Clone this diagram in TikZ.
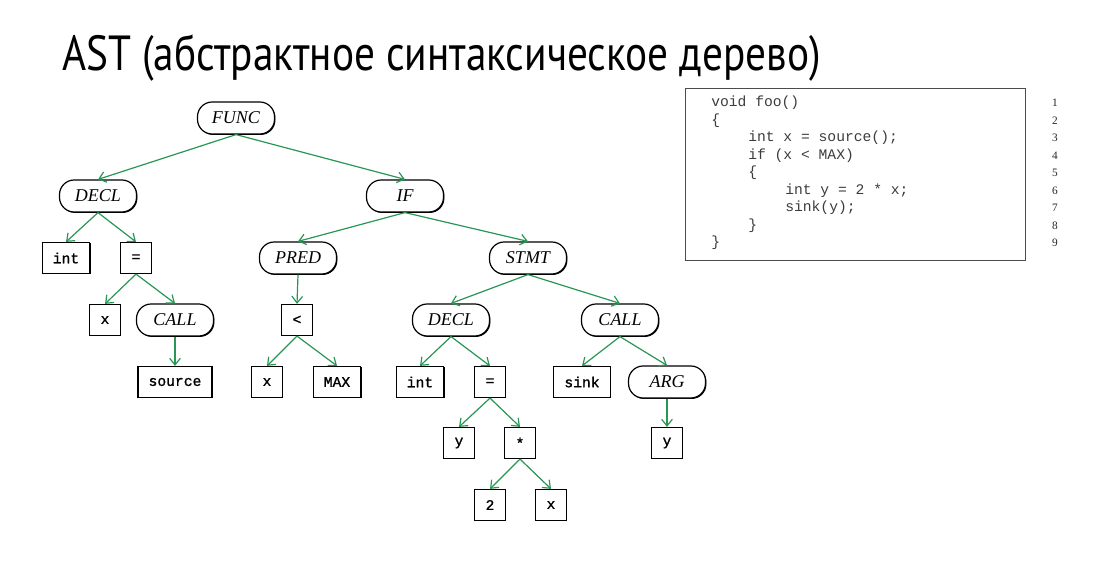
\documentclass[tikz,border=0pt]{standalone}
\usepackage{fontspec}
\setmainfont{Liberation Serif}
\newfontfamily\monofont{Liberation Mono}
\newfontfamily\boxmono[FakeBold=1.2]{Liberation Mono}
\newfontfamily\titlefont{PT Sans}
\usetikzlibrary{arrows.meta,shadows}
\definecolor{edgegreen}{RGB}{40,150,85}
\definecolor{codegray}{RGB}{60,60,60}
\tikzset{
  shd/.style={drop shadow={shadow xshift=0.7pt,shadow yshift=-0.7pt,fill=black,opacity=1}},
  rnd/.style={draw=black,line width=0.9pt,fill=white,shd,rounded corners=11pt,
    minimum width=57.75pt,minimum height=24pt,inner sep=0pt,
    font=\fontsize{13.5}{15}\selectfont\itshape},
  sq/.style={draw=black,line width=0.9pt,fill=white,shd,minimum width=23.25pt,minimum height=23.25pt,
    inner xsep=8pt,inner ysep=0pt,font=\boxmono\fontsize{11}{13}\selectfont},
  edge/.style={draw=edgegreen,line width=0.9pt,-{Straight Barb[length=5pt,width=8pt]}},
  code/.style={anchor=west,inner sep=0pt,text=codegray,font=\monofont\fontsize{11}{13}\selectfont},
  lnum/.style={inner sep=0pt,text=black!85,font=\fontsize{8.5}{9}\selectfont},
}
\begin{document}
\begin{tikzpicture}[x=0.75pt,y=-0.75pt]
\useasboundingbox (0,0) rectangle (1107,577);
% title
\node[anchor=base west,inner sep=0pt] (title) at (62,71)
  {\titlefont\fontsize{37}{40}\selectfont\scalebox{0.837}[1]{AST (абстрактное синтаксическое дерево)}};
% tree nodes
\node[rnd] (func) at (236,118) {FUNC};
\node[rnd] (decl) at (98,196) {DECL};
\node[rnd] (if) at (405,196) {IF};
\node[sq] (int1) at (66,258) {int};
\node[sq] (eq1) at (136,258) {=};
\node[rnd] (pred) at (298,258) {PRED};
\node[rnd] (stmt) at (528,258) {STMT};
\node[sq] (x1) at (105,320) {x};
\node[rnd] (call1) at (175,320) {CALL};
\node[sq] (lt) at (297,320) {<};
\node[rnd] (decl2) at (451,320) {DECL};
\node[rnd] (call2) at (620,320) {CALL};
\node[sq] (source) at (175,382) {source};
\node[sq] (x2) at (267,382) {x};
\node[sq] (max) at (337,382) {MAX};
\node[sq] (int2) at (420,382) {int};
\node[sq] (eq2) at (490,382) {=};
\node[sq] (sink) at (582,382) {sink};
\node[rnd] (arg) at (667,382) {ARG};
\node[sq] (y1) at (459,443) {y};
\node[sq] (mul) at (520,443) {*};
\node[sq] (y2) at (667,443) {y};
\node[sq] (two) at (490,505) {2};
\node[sq] (x3) at (551,505) {x};
% edges
\foreach \a/\b in {func/decl,func/if,decl/int1,decl/eq1,if/pred,if/stmt,eq1/x1,eq1/call1,
  call1/source,pred/lt,lt/x2,lt/max,stmt/decl2,stmt/call2,decl2/int2,decl2/eq2,
  call2/sink,call2/arg,eq2/y1,eq2/mul,arg/y2,mul/two,mul/x3}
  \draw[edge] (\a.south) -- (\b.north);
% code box
\node[draw=black!70,line width=0.8pt,minimum width=255pt,minimum height=129pt,anchor=north west,inner sep=0pt] (codebox) at (685,88) {};
\node[code] (c1) at (711,103) {void foo()};
\node[code] (c2) at (711,120.5) {\{};
\node[code] (c3) at (748,138) {int x = source();};
\node[code] (c4) at (748,155.5) {if (x < MAX)};
\node[code] (c5) at (748,173) {\{};
\node[code] (c6) at (785,190.5) {int y = 2 * x;};
\node[code] (c7) at (785,208) {sink(y);};
\node[code] (c8) at (748,225.5) {\}};
\node[code] (c9) at (711,243) {\}};
\foreach \i in {1,...,9}
  \node[lnum] (n\i) at (1055,{103+17.5*(\i-1)}) {\i};
\end{tikzpicture}
\end{document}
